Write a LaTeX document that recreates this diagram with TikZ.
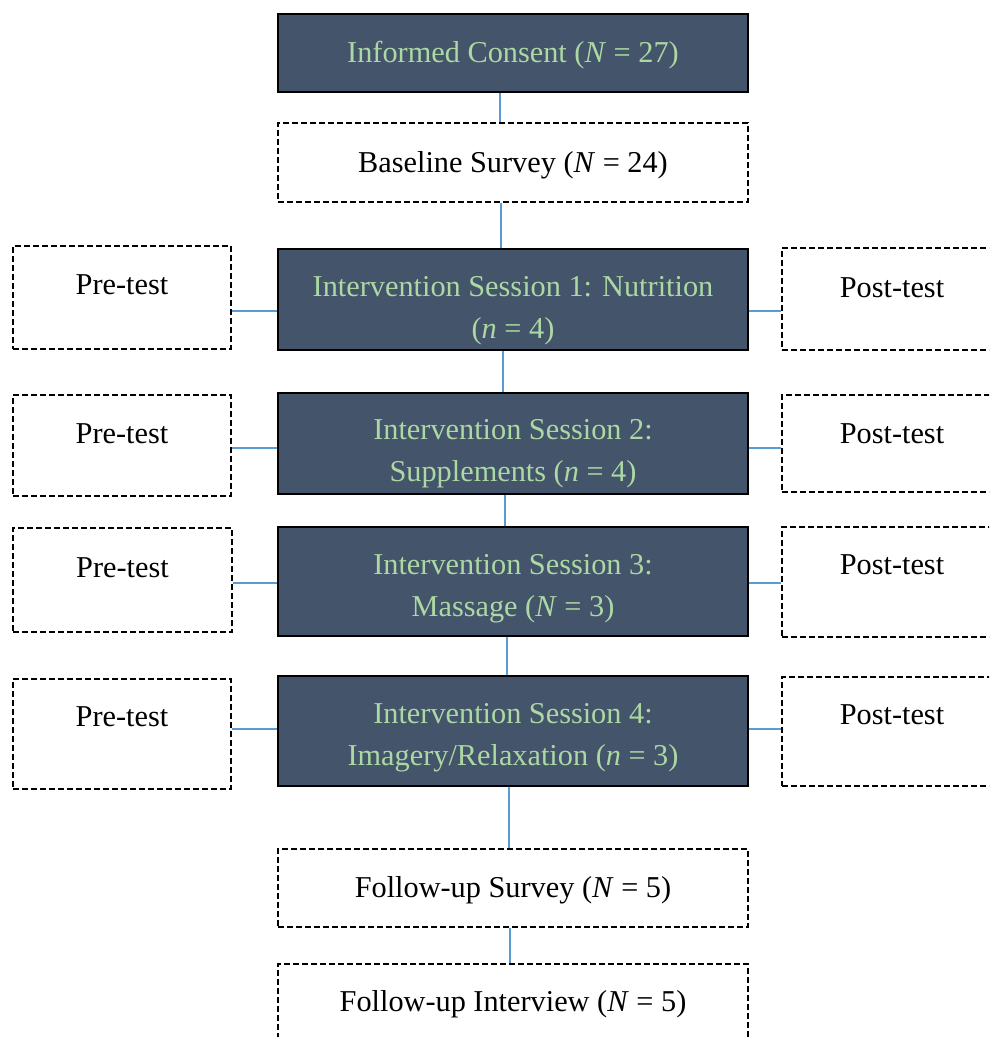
\documentclass[tikz,border=0pt]{standalone}
\usepackage{fontspec}
\setmainfont{Liberation Serif}
\definecolor{slate}{HTML}{44546A}
\definecolor{paleg}{RGB}{172,216,164}
\definecolor{linkb}{HTML}{5B9BD5}
\begin{document}
\begin{tikzpicture}[x=1pt,y=-1pt,
  darkbox/.style={draw=black,line width=1.5pt,fill=slate,inner sep=0pt},
  dashbox/.style={draw=black,line width=1.3pt,dash pattern=on 6pt off 3pt,fill=white,inner sep=0pt},
  gtxt/.style={text=paleg,font=\fontsize{30.3}{42}\selectfont,align=center,inner sep=0pt},
  btxt/.style={text=black,font=\fontsize{30.3}{42}\selectfont,align=center,inner sep=0pt},
  link/.style={draw=linkb,line width=2.2pt}]
\useasboundingbox (0,0) rectangle (989,1037);
\clip (0,0) rectangle (989,1037);
\fill[white] (0,0) rectangle (989,1037);
% centre column
\node[darkbox,minimum width=470,minimum height=78] (ic) at (513,53) {};
\node[gtxt] (ict) at (513,55) {Informed Consent (\textit{N} = 27)};
\node[dashbox,minimum width=470,minimum height=79] (bs) at (513,162.5) {};
\node[btxt] (bst) at (513,165) {Baseline Survey (\textit{N} = 24)};
\node[darkbox,minimum width=470,minimum height=101] (s1) at (513,299.5) {};
\node[gtxt] (s1t) at (513,311) {Intervention Session 1: Nutrition\\(\textit{n} = 4)};
\node[darkbox,minimum width=470,minimum height=101] (s2) at (513,443.5) {};
\node[gtxt] (s2t) at (513,454) {Intervention Session 2:\\Supplements (\textit{n} = 4)};
\node[darkbox,minimum width=470,minimum height=109] (s3) at (513,581.5) {};
\node[gtxt] (s3t) at (513,589) {Intervention Session 3:\\Massage (\textit{N} = 3)};
\node[darkbox,minimum width=470,minimum height=110] (s4) at (513,731) {};
\node[gtxt] (s4t) at (513,738) {Intervention Session 4:\\Imagery/Relaxation (\textit{n} = 3)};
\node[dashbox,minimum width=470,minimum height=78] (fs) at (513,888) {};
\node[btxt] (fst) at (513,890) {Follow-up Survey (\textit{N} = 5)};
\node[dashbox,minimum width=470,minimum height=80] (fi) at (513,1004) {};
\node[btxt] (fit) at (513,1004) {Follow-up Interview (\textit{N} = 5)};
% left column
\node[dashbox,minimum width=218,minimum height=103] (p1) at (122,297.5) {};
\node[btxt] (p1t) at (122,285) {Pre-test};
\node[dashbox,minimum width=218,minimum height=101] (p2) at (122,445.5) {};
\node[btxt] (p2t) at (122,434) {Pre-test};
\node[dashbox,minimum width=219,minimum height=104] (p3) at (122.5,580) {};
\node[btxt] (p3t) at (122.5,568) {Pre-test};
\node[dashbox,minimum width=218,minimum height=110] (p4) at (122,734) {};
\node[btxt] (p4t) at (122,717) {Pre-test};
% right column
\node[dashbox,minimum width=222,minimum height=102] (q1) at (893,299) {};
\node[btxt] (q1t) at (892,288) {Post-test};
\node[dashbox,minimum width=222,minimum height=97] (q2) at (893,443.5) {};
\node[btxt] (q2t) at (892,434) {Post-test};
\node[dashbox,minimum width=222,minimum height=110] (q3) at (893,582) {};
\node[btxt] (q3t) at (892,565) {Post-test};
\node[dashbox,minimum width=222,minimum height=109] (q4) at (893,731.5) {};
\node[btxt] (q4t) at (892,715) {Post-test};
% vertical connectors
\draw[link] ([xshift=-13]ic.south) -- ([xshift=-13]bs.north);
\draw[link] ([xshift=-12]bs.south) -- ([xshift=-12]s1.north);
\draw[link] ([xshift=-10]s1.south) -- ([xshift=-10]s2.north);
\draw[link] ([xshift=-8]s2.south) -- ([xshift=-8]s3.north);
\draw[link] ([xshift=-6]s3.south) -- ([xshift=-6]s4.north);
\draw[link] ([xshift=-4]s4.south) -- ([xshift=-4]fs.north);
\draw[link] ([xshift=-3]fs.south) -- ([xshift=-3]fi.north);
% horizontal connectors
\draw[link] (p1.east |- 0,311) -- (s1.west |- 0,311);
\draw[link] (s1.east |- 0,311) -- (q1.west |- 0,311);
\draw[link] (p2.east |- 0,448) -- (s2.west |- 0,448);
\draw[link] (s2.east |- 0,448) -- (q2.west |- 0,448);
\draw[link] (p3.east |- 0,583) -- (s3.west |- 0,583);
\draw[link] (s3.east |- 0,583) -- (q3.west |- 0,583);
\draw[link] (p4.east |- 0,729) -- (s4.west |- 0,729);
\draw[link] (s4.east |- 0,729) -- (q4.west |- 0,729);
\end{tikzpicture}
\end{document}
